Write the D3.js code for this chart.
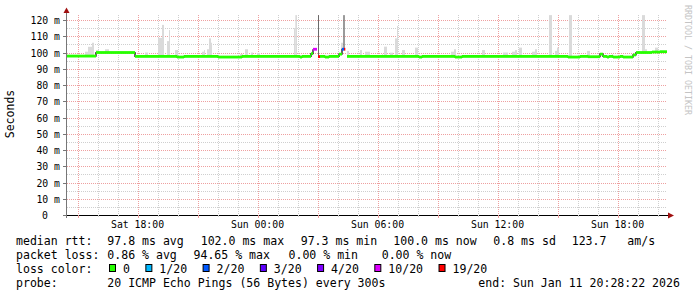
<!DOCTYPE html>
<html><head><meta charset="utf-8">
<script src="https://cdn.jsdelivr.net/npm/d3@7"></script>
<style>body{margin:0;background:#fff}svg text{font-family:"DejaVu Sans Mono",monospace}</style>
</head><body><svg id="c" width="697" height="297"></svg>
<script>
// ---------- DATA ----------
const startTime = new Date(2026,0,10,14,28,22);
const endTime   = new Date(2026,0,11,20,28,22);
// median rtt, step-after: minutes after start, value (ms), pings lost of 20
const medianMinutes = [0,87,204,330,351,453,525,699,705,732,738,750,753,759,774,786,816,825,831,835,840,1056,1065,1164,1185,1503,1539,1563,1599,1608,1620,1626,1638,1659,1668,1698,1707,1755,1779];
const medianValues  = [97.8,100.0,97.6,97.2,97.6,97.2,97.6,97.2,97.6,99.3,102.0,null,97.5,97.6,97.2,97.6,99.0,102.0,102.0,null,97.6,97.2,97.6,97.2,97.6,97.2,97.6,97.4,99.0,97.6,97.2,97.6,97.2,97.6,97.2,98.5,100.0,100.3,100.5];
const medianLoss    = [0,0,0,0,0,0,0,0,0,0,10,0,19,0,0,0,0,2,19,0,0,0,0,0,0,0,0,0,0,0,0,0,0,0,0,0,0,0,0];
// smoke (spread of the pings): minutes after start, span (min), top (ms)
const smokeMinutes = [54,63,75,87,114,147,234,273,285,300,306,324,360,405,411,420,426,432,519,534,552,570,681,685,753,822,829,840,879,894,945,951,969,984,990,1005,1044,1152,1161,1245,1308,1335,1344,1356,1395,1404,1446,1464,1470,1506,1560,1635,1725,1734,1764];
const smokeSpan    = [9,12,6,9,12,6,9,12,6,6,3,9,6,9,3,6,6,3,9,9,6,9,4,5,3,6,4,6,6,15,3,9,9,6,3,9,9,9,6,9,15,9,6,9,9,6,9,9,6,9,9,3,9,6,9];
const smokeTop     = [100.5,103.5,106,101.5,102,100.5,100,109,117,107,113.8,101.5,98.5,100.5,101.5,102,108.7,106,99,102,100,99.7,115,123,123,106,123,101,101.5,100.5,99,103.6,99.9,108.7,116.3,101.5,103,100.5,102,101.5,100,100.5,101.5,103,100.5,102,123,101,103,123,101,99,123,102,103];
const yTickValues = [0,10,20,30,40,50,60,70,80,90,100,110,120];
const xTickTimes  = [new Date(2026,0,10,18,0), new Date(2026,0,11,0,0), new Date(2026,0,11,6,0), new Date(2026,0,11,12,0), new Date(2026,0,11,18,0)];
const lossThresholds = [0,1,2,3,4,10,19];
const lossLabels     = ["0","1/20","2/20","3/20","4/20","10/20","19/20"];
const lossColors     = ["#26ff00","#00b8ff","#0059ff","#5e00ff","#7e00ff","#dd00ff","#ff0000"];
const rttStats  = ["97.8 ms avg","102.0 ms max","97.3 ms min","100.0 ms now","0.8 ms sd","123.7   am/s"];
const lossStats = ["0.86 % avg","94.65 % max","0.00 % min","0.00 % now"];
const probeText = "20 ICMP Echo Pings (56 Bytes) every 300s";
const endText   = "end: Sun Jan 11 20:28:22 2026";

// ---------- LAYOUT ----------
const svg = d3.select("#c");
const L = 67, R = 667, T = 15, B = 215;
const x = d3.scaleTime().domain([startTime, endTime]).range([L, R]);
const y = d3.scaleLinear().domain([0, 123.08]).range([B, T]);
const tAt = m => new Date(startTime.getTime() + m*60000);
const lossColor = l => { let c = lossColors[0]; lossThresholds.forEach((t,i)=>{ if (l>=t) c = lossColors[i]; }); return c; };

// grid
const hours = d3.timeHour.every(1).range(startTime, endTime);
const g = svg.append("g");
hours.forEach(h => {
  const major = h.getHours() % 3 === 0;
  g.append("line").attr("x1", Math.round(x(h))+0.5).attr("x2", Math.round(x(h))+0.5)
   .attr("y1", T).attr("y2", B)
   .attr("stroke", major ? "#eea0a0" : "#cfcfcf").attr("stroke-dasharray","1,1");
});
d3.range(5, 125, 5).forEach(v => {
  const major = v % 10 === 0;
  g.append("line").attr("x1", L).attr("x2", R)
   .attr("y1", Math.round(y(v))+0.5).attr("y2", Math.round(y(v))+0.5)
   .attr("stroke", major ? "#eea0a0" : "#cfcfcf").attr("stroke-dasharray","1,1");
});

// median lookup
const medianAt = m => { let v = null, l = 0; medianMinutes.forEach((mm,i)=>{ if (m>=mm) { v = medianValues[i]; l = medianLoss[i]; } }); return {v, l}; };

// smoke
smokeMinutes.forEach((m,i) => {
  const md = medianAt(m + smokeSpan[i]/2);
  const base = md.v == null ? 97.5 : md.v;
  const x0 = x(tAt(m)), x1 = x(tAt(m + smokeSpan[i]));
  const top = Math.min(smokeTop[i], 123.08);
  svg.append("rect").attr("x", x0).attr("width", Math.max(1, x1-x0))
    .attr("y", y(top)).attr("height", y(base) - y(top))
    .attr("fill", md.l >= 10 ? "#6a6a6a" : "#dadada");
});

// median black step line
const pts = medianMinutes.map((m,i)=>({t:tAt(m), v:medianValues[i]}));
pts.push({t:endTime, v:medianValues[medianValues.length-1]});
svg.append("path").datum(pts)
  .attr("d", d3.line().defined(d=>d.v!=null).curve(d3.curveStepAfter).x(d=>x(d.t)).y(d=>y(d.v)))
  .attr("fill","none").attr("stroke","#000").attr("stroke-width",1.2);
// coloured segments
medianMinutes.forEach((m,i) => {
  if (medianValues[i] == null) return;
  const m2 = i+1 < medianMinutes.length ? medianMinutes[i+1] : 1800;
  const x0 = x(tAt(m)), x1 = x(tAt(m2));
  const yy = y(medianValues[i]);
  svg.append("rect").attr("x", x0).attr("width", x1-x0).attr("y", yy-1.4).attr("height", 2.8)
    .attr("fill", lossColor(medianLoss[i]));
});

// axes
svg.append("line").attr("x1",L-0.5).attr("x2",L-0.5).attr("y1",12).attr("y2",218).attr("stroke","#777");
svg.append("line").attr("x1",63).attr("x2",669).attr("y1",B+0.5).attr("y2",B+0.5).attr("stroke","#000");
svg.append("path").attr("d",`M${L-0.5},7.5 L${L-3.5},13 L${L+2.5},13 Z`).attr("fill","#a01010");
svg.append("path").attr("d",`M674,${B+0.5} L668,${B-2.5} L668,${B+3.5} Z`).attr("fill","#a01010");
yTickValues.forEach(v => {
  const yy = Math.round(y(v))+0.5;
  svg.append("line").attr("x1",63).attr("x2",L).attr("y1",yy).attr("y2",yy).attr("stroke","#777");
  svg.append("text").attr("x", v===0 ? 48 : 60).attr("y", yy+3.5).attr("text-anchor","end")
    .attr("font-size","9.8px").attr("fill","#000").text(v===0 ? "0" : v + " m");
});
hours.forEach(h => {
  const xx = Math.round(x(h))+0.5;
  svg.append("line").attr("x1",xx).attr("x2",xx).attr("y1",B).attr("y2", h.getHours()%3===0 ? B+3 : B+2)
    .attr("stroke", h.getHours()%3===0 ? "#eea0a0" : "#cfcfcf");
});
xTickTimes.forEach(t => {
  svg.append("text").attr("x", x(t)).attr("y", 228).attr("text-anchor","middle")
    .attr("font-size","9.8px").attr("fill","#000").text(d3.timeFormat("%a %H:%M")(t));
});
svg.append("text").attr("transform","translate(14,114) rotate(-90)").attr("text-anchor","middle")
  .attr("font-size","11.5px").attr("fill","#000").text("Seconds");
svg.append("text").attr("transform","translate(685,5) rotate(90)")
  .attr("font-size","8.3px").attr("fill","#c4c4c4").text("RRDTOOL / TOBI OETIKER");

// legend
const FS = "11.55px";
const lt = (xx, yy, s) => svg.append("text").attr("x",xx).attr("y",yy).attr("font-size",FS).attr("fill","#000").attr("xml:space","preserve").style("white-space","pre").text(s);
lt(16,245,"median rtt:");
const rttX = [107.3,200.7,300.7,393.3,493.3,571.7];
rttStats.forEach((s,i)=>lt(rttX[i],245,s));
lt(16,259,"packet loss:");
const lossX = [107.3,193.5,288.5,381.7];
lossStats.forEach((s,i)=>lt(lossX[i],259,s));
lt(16,273,"loss color:");
let lx = 109;
lossLabels.forEach((s,i) => {
  svg.append("rect").attr("x",lx+0.5).attr("y",264.5).attr("width",6).attr("height",7)
    .attr("fill",lossColors[i]).attr("stroke","#000");
  lt(lx+14,273,s);
  lx = lx + 14 + s.length*6.96 + 15.4;
});
lt(16,287,"probe:");
lt(107.3,287,probeText);
lt(478.3,287,endText);
</script></body></html>
